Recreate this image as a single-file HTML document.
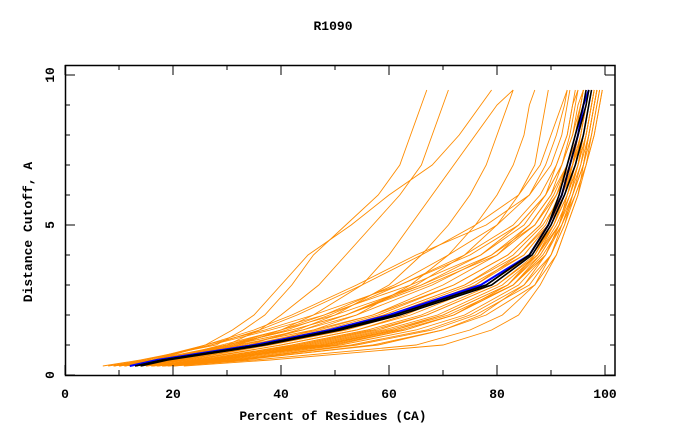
<!DOCTYPE html>
<html><head><meta charset="utf-8"><style>
body{margin:0;background:#fff}
svg{display:block;font-family:"Liberation Mono",monospace;font-weight:bold}
</style></head><body>
<svg id="c" width="680" height="440">
<text x="333" y="30" font-size="13" text-anchor="middle">R1090</text>
<g id="plot"></g>
<rect x="65.5" y="65.5" width="549.5" height="310" fill="none" stroke="#000" stroke-width="1.5"/>
<g id="ax"></g>
<text x="333" y="420" font-size="13" text-anchor="middle">Percent of Residues (CA)</text>
<text transform="translate(32,232) rotate(-90)" font-size="13" text-anchor="middle">Distance Cutoff, A</text>
</svg>
<script>
const levels=[0.3,0.5,1,1.5,2,3,4,5,6,7,8,9,9.5];
const orangeSeries=[
[7,14,28,33,37,42,46,52,58,62,64,66,67],
[9,16,30,36,40,47,52,57,62,66,68,70,71],
[8,15,26,31,35,40,45,53,60,68,73,77,79],
[10,18,32,40,46,55,60,64,68,72,76,80,83],
[11,19,34,43,50,60,66,71,75,78,80,82,83],
[12,20,36,46,54,64,71,76,80,83,85,86,87],
[9,17,33,44,52,65,74,80,84,87,88,89,89.5],
[14,19,30,42,52,66,77,84,89,91,93,94,95],
[15,21,34,47,57,70,80,86,90,92,93.5,94.5,95],
[10,17,26,37,46,62,75,84,89,92,94,95,96],
[16,24,40,54,63,76,84,89,91.5,93,95,96,96.5],
[13,20,32,46,57,72,82,88,91,93.5,95,96,97],
[17,26,44,58,67,80,87,90.5,93,95,96,97,97.5],
[18,29,49,63,72,83,88,91.5,93.5,95,96.5,97.5,98],
[19,31,53,67,75,85,90,92.5,94,96,97,98,98.5],
[20,33,57,70,78,87,91,93,95,96.5,97.5,98.5,99],
[12,18,29,40,50,66,79,87,90.5,93,95,96.5,97],
[14,22,37,51,61,76,85,89.5,92,94,95.5,96.5,97],
[11,18,31,44,54,68,79,86,90,93,94.5,95.5,96],
[16,27,46,60,70,82,87.5,90.5,92.5,94,95,96,96.5],
[15,25,42,56,66,79,86.5,90.5,93,95,96.5,97.5,98],
[13,21,36,49,59,74,83,88.5,92,94.5,96,97,97.5],
[17,28,48,62,72,83,89,92,94,96,97,98,98.5],
[12,19,34,49,59,74,84,89.5,92.5,94.5,96,97,97.5],
[18,30,51,65,74,84,89,91.5,93,94.5,95.5,96.5,97],
[14,23,40,54,64,78,86.5,90.5,93,95,96.5,97.5,98],
[10,16,27,38,48,64,77,85,89,92,94,95.5,96],
[16,26,45,59,69,81,87.5,91.5,94,96,97.5,98.5,99],
[13,20,35,48,58,72,82,88,91,93,94.5,95.5,96],
[19,32,54,68,76,86,90,92.5,94.5,96.5,98,99,99.5],
[15,22,38,52,62,77,86,89.5,92,94,95,96,96.5],
[11,17,30,42,52,67,80,87,91,94,96,97,97.5],
[17,27,47,61,71,83,88.5,92,94.5,96.5,98,99,99.5],
[14,21,36,50,60,75,85,89.5,92.5,94.5,96,97,97.5],
[12,20,35,50,61,77,86,90,92.5,94,95,96,96.5],
[16,25,43,57,67,80,87.5,91,93.5,95.5,97,98,98.5],
[18,28,48,61,70,82,88,91.5,93,95,96,97,97.5],
[16,28,50,63,72,82,87,90,92,94,95.5,96.5,97],
[18,32,58,70,77,85,89,91.5,93.5,95,96,97,97.5],
[20,35,65,75,81,87,90,92,94,95.5,96.5,97.5,98],
[22,38,70,79,84,88,91,93,95,96,97,98,98.5],
[9,15,27,36,43,55,66,76,84,88,90,92,93],
[11,18,30,40,48,61,71,80,86,89,91,92.5,93],
[10,16,26,35,42,54,65,78,86,90,92,93,93.5],
[12,19,31,41,49,62,74,83,88,91,93,94,94.5]
];
const blueSeries=[12,17,35,49,60,77,86,89.5,92,93.5,95,96,97];
const blackSeries=[
[13,18,36,50,61,78,86,89.5,92,93.5,95,96.5,97],
[14,19,37,51,62,79,86.5,90,92.5,94.5,96,97,97.5],
[13,18,36,50,61,78,86,89.5,91.5,93,94.5,96,96.5]
];
const xTicks=[0,20,40,60,80,100];
const yTicks=[0,5,10];
const NS="http://www.w3.org/2000/svg";
const sx=v=>65+v*5.4, sy=v=>375-v*30;
const plot=document.getElementById('plot'), ax=document.getElementById('ax');
function line(xs,color,w,name){
  const p=document.createElementNS(NS,'polyline');
  p.setAttribute('points',xs.map((x,i)=>sx(x).toFixed(1)+','+sy(levels[i]).toFixed(1)).join(' '));
  p.setAttribute('fill','none');p.setAttribute('stroke',color);p.setAttribute('stroke-width',w);
  
  
  plot.appendChild(p);
}
orangeSeries.forEach(s=>line(s,'#ff8c00',0.9,'orange-model-curve'));
line(blueSeries,'#0000ff',2,'blue-reference-curve');
blackSeries.forEach(s=>line(s,'#000',1.6,'black-model-curve'));
function tick(x1,y1,x2,y2){
  const l=document.createElementNS(NS,'line');
  l.setAttribute('x1',x1);l.setAttribute('y1',y1);l.setAttribute('x2',x2);l.setAttribute('y2',y2);
  l.setAttribute('stroke','#000');l.setAttribute('stroke-width',1);
  
  
  ax.appendChild(l);
}
function label(x,y,t,a,name){
  const e=document.createElementNS(NS,'text');
  e.setAttribute('x',x);e.setAttribute('y',y);e.setAttribute('font-size',13);e.setAttribute('text-anchor',a);
  e.textContent=t;
  
  
  ax.appendChild(e);
}
for(let v=0;v<=100;v+=10){const big=v%20===0;tick(sx(v),375,sx(v),375-(big?10:5));tick(sx(v),65,sx(v),65+(big?10:5));}
for(let v=0;v<=10;v+=1){const big=v%5===0;tick(65,sy(v),65+(big?10:5),sy(v));tick(615,sy(v),615-(big?10:5),sy(v));}
xTicks.forEach(v=>label(sx(v),398,String(v),'middle','x-tick-label'));
yTicks.forEach(v=>{
  const e=document.createElementNS(NS,'text');
  e.setAttribute('transform','translate(54,'+sy(v)+') rotate(-90)');
  e.setAttribute('font-size',13);e.setAttribute('text-anchor','middle');
  e.textContent=String(v);
  
  
  ax.appendChild(e);
});
</script>
</body></html>
